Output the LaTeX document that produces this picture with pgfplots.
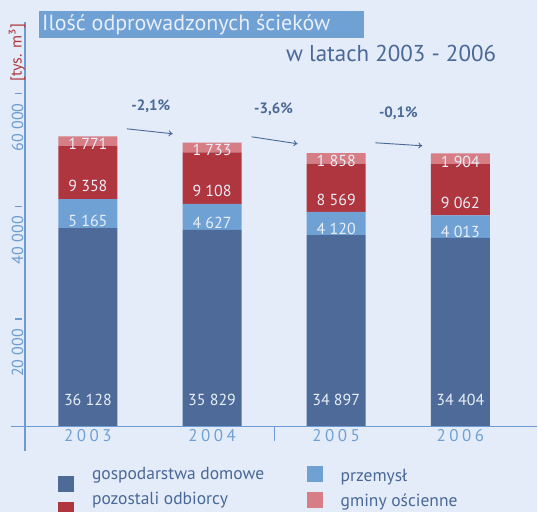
\documentclass[border=0pt]{standalone}
\usepackage{fontspec}
\setmainfont{PT Sans}
\usepackage{pgfplots}
\pgfplotsset{compat=1.18}
\usetikzlibrary{arrows.meta}
\definecolor{bg}{RGB}{227,236,248}
\definecolor{gd}{RGB}{78,106,152}
\definecolor{prz}{RGB}{112,161,213}
\definecolor{poz}{RGB}{175,53,62}
\definecolor{gm}{RGB}{214,125,134}
\definecolor{axc}{RGB}{108,156,211}
\definecolor{txt}{RGB}{74,104,152}
\definecolor{lbl}{RGB}{232,239,248}
\definecolor{ttl}{RGB}{176,56,60}
\begin{document}
\begin{tikzpicture}[x=1pt,y=1pt]
\fill[bg] (0,0) rectangle (538,513);
\begin{axis}[
  at={(25pt,86pt)}, anchor=south west, scale only axis,
  width=513pt, height=405pt,
  xmin=-0.507, xmax=3.619, ymin=1000, ymax=72681,
  ybar stacked, bar width=59pt,
  axis line style={draw=none},
  ytick=\empty,
  xtick={0,1,2,3},
  xticklabels={2\hspace{3.5pt}0\hspace{3.5pt}0\hspace{3.5pt}3,2\hspace{3.5pt}0\hspace{3.5pt}0\hspace{3.5pt}4,2\hspace{3.5pt}0\hspace{3.5pt}0\hspace{3.5pt}5,2\hspace{3.5pt}0\hspace{3.5pt}0\hspace{3.5pt}6},
  xtick style={draw=none},
  xticklabel style={font=\fontsize{17}{20}\selectfont, text=prz},
  clip=false,
  point meta=rawy,
  visualization depends on=rawy\as\rawy,
  nodes near coords={\pgfmathprintnumber[fixed,precision=0,1000 sep={\ },assume math mode=true]{\pgfplotspointmeta}},
]
\addplot[fill=gd, draw=none, every node near coord/.style={font=\fontsize{16}{18}\selectfont, text=lbl, anchor=center, shift={(axis direction cs:0,5750-\rawy/2)}}]
  coordinates {(0,36128) (1,35829) (2,34897) (3,34404)};
\addplot[fill=prz, draw=none, every node near coord/.style={font=\fontsize{16}{18}\selectfont, text=lbl, anchor=center, shift={(axis direction cs:0,-\rawy/4)}}]
  coordinates {(0,5165) (1,4627) (2,4120) (3,4013)};
\addplot[fill=poz, draw=none, every node near coord/.style={font=\fontsize{16}{18}\selectfont, text=lbl, anchor=center, shift={(axis direction cs:0,-\rawy/4)}}]
  coordinates {(0,9358) (1,9108) (2,8569) (3,9062)};
\addplot[fill=gm, draw=none, every node near coord/.style={font=\fontsize{16}{18}\selectfont, text=lbl, anchor=center, shift={(axis direction cs:0,-\rawy/4)}}]
  coordinates {(0,1771) (1,1733) (2,1858) (3,1904)};
% y ticks and labels
\draw[axc, line width=1.5pt] ([xshift=-10pt]axis cs:-0.507,20000) -- ([xshift=-3pt]axis cs:-0.507,20000);
\draw[axc, line width=1.5pt] ([xshift=-10pt]axis cs:-0.507,40000) -- ([xshift=-3pt]axis cs:-0.507,40000);
\draw[axc, line width=1.5pt] ([xshift=-10pt]axis cs:-0.507,60000) -- ([xshift=-3pt]axis cs:-0.507,60000);
\node[rotate=90, text=axc, font=\fontsize{16}{18}\selectfont, inner sep=0] at ([xshift=-7.5pt]axis cs:-0.507,14000) {20 000};
\node[rotate=90, text=axc, font=\fontsize{16}{18}\selectfont, inner sep=0] at ([xshift=-7.5pt]axis cs:-0.507,34000) {40 000};
\node[rotate=90, text=axc, font=\fontsize{16}{18}\selectfont, inner sep=0] at ([xshift=-7.5pt]axis cs:-0.507,54000) {60 000};
\end{axis}
% axis lines
\draw[axc, line width=1.6pt] (25,61) -- (25,491);
\draw[axc, line width=1.6pt] (11,86) -- (538,86);
\draw[axc, line width=1.6pt] (275,86) -- (275,71);
% y title
\node[rotate=90, text=ttl, font=\fontsize{16}{18}\selectfont, inner sep=0] at (17,460) {[tys. m³]};
% title
\fill[prz] (39,475) rectangle (365,502);
\node[anchor=west, inner sep=0, text=lbl, font=\fontsize{22}{26}\selectfont] at (42,488) {Ilość odprowadzonych ścieków};
\node[anchor=base east, inner sep=0, text=txt, font=\fontsize{23}{27}\selectfont] at (497,451) {w latach 2003 - 2006};
% changes
\node[text=txt, font=\bfseries\fontsize{15}{18}\selectfont] at (151,407) {-2,1\%};
\node[text=txt, font=\bfseries\fontsize{15}{18}\selectfont] at (274,404) {-3,6\%};
\node[text=txt, font=\bfseries\fontsize{15}{18}\selectfont] at (399,400) {-0,1\%};
\draw[txt, line width=0.9pt, -{To[length=4pt,width=6pt]}] (127,384) -- (173,379);
\draw[txt, line width=0.9pt, -{To[length=4pt,width=6pt]}] (252,376) -- (298,369);
\draw[txt, line width=0.9pt, -{To[length=4pt,width=6pt]}] (376,370) -- (423,367);
% legend
\fill[gd] (58,20) rectangle (74,36);
\fill[poz] (58,0) rectangle (74,10);
\fill[prz] (307,30) rectangle (323,46);
\fill[gm] (307,4) rectangle (323,20);
\node[anchor=base west, inner sep=0, text=txt, font=\fontsize{17.5}{20}\selectfont] at (92,33) {gospodarstwa domowe};
\node[anchor=base west, inner sep=0, text=txt, font=\fontsize{17.5}{20}\selectfont] at (92,8) {pozostali odbiorcy};
\node[anchor=base west, inner sep=0, text=txt, font=\fontsize{17.5}{20}\selectfont] at (341,31) {przemysł};
\node[anchor=base west, inner sep=0, text=txt, font=\fontsize{17.5}{20}\selectfont] at (341,6) {gminy ościenne};
\end{tikzpicture}
\end{document}
